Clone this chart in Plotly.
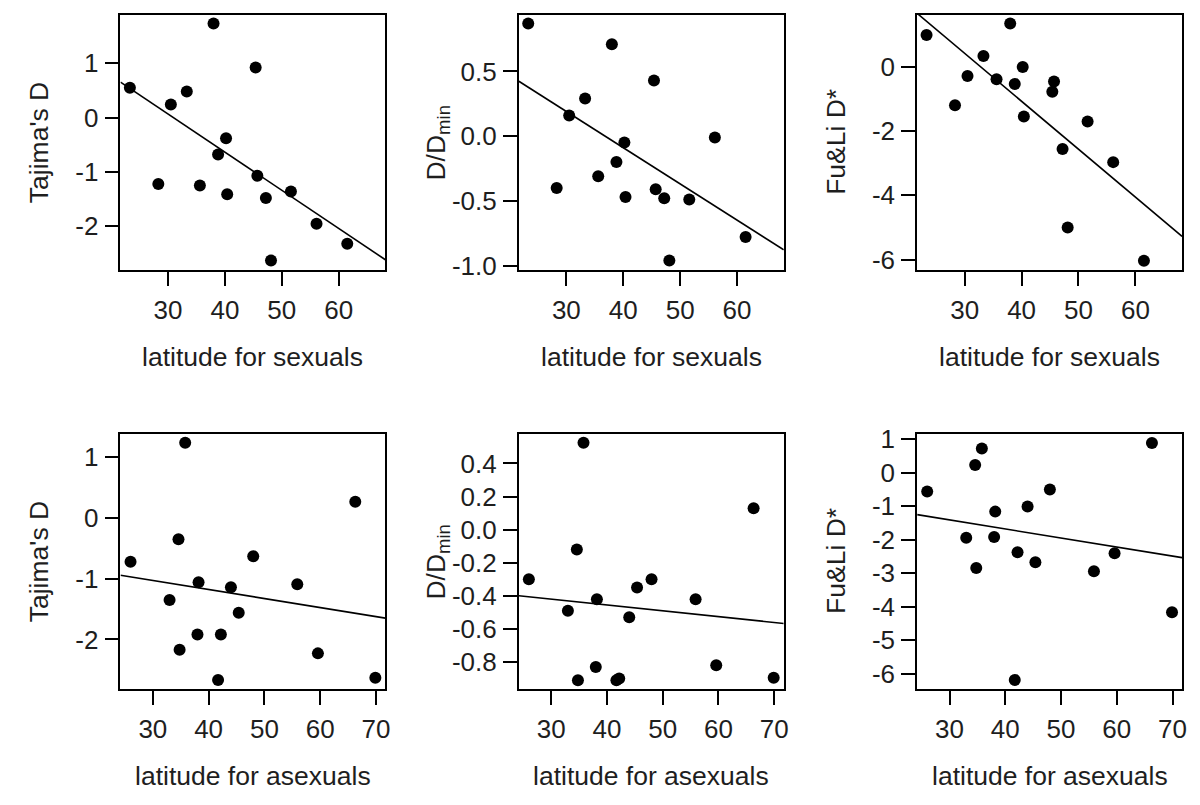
import numpy as np
import plotly.graph_objects as go

# ---- data ----
lat_sexuals = [23.3, 38.0, 45.4, 33.3, 30.5, 40.2, 38.8, 28.3, 35.6, 40.4, 45.7, 47.2, 51.6, 56.1, 61.5, 48.1]
tajima_sexuals = [0.55, 1.73, 0.92, 0.48, 0.24, -0.38, -0.68, -1.22, -1.25, -1.41, -1.07, -1.48, -1.36, -1.95, -2.32, -2.63]
ddmin_sexuals = [0.87, 0.71, 0.43, 0.29, 0.16, -0.05, -0.20, -0.40, -0.31, -0.47, -0.41, -0.48, -0.49, -0.01, -0.78, -0.96]
# Fu & Li values are listed in the order of lat_sexuals_fuli
lat_sexuals_fuli = [23.3, 38.0, 33.3, 30.5, 35.6, 38.8, 40.2, 28.3, 40.4, 45.7, 45.4, 47.2, 51.6, 56.1, 61.5, 48.1]
fuli_sexuals = [0.98, 1.34, 0.33, -0.29, -0.39, -0.54, -0.01, -1.20, -1.55, -0.46, -0.78, -2.56, -1.71, -2.97, -6.04, -5.00]

lat_asexuals = [26.0, 35.8, 34.6, 33.0, 34.8, 38.2, 38.0, 41.7, 42.2, 44.0, 45.4, 48.0, 55.9, 59.6, 66.3, 69.9]
tajima_asexuals = [-0.72, 1.24, -0.35, -1.35, -2.17, -1.06, -1.92, -2.67, -1.92, -1.14, -1.56, -0.63, -1.09, -2.23, 0.27, -2.63]
ddmin_asexuals = [-0.30, 0.525, -0.12, -0.49, -0.91, -0.42, -0.83, -0.91, -0.90, -0.53, -0.35, -0.30, -0.42, -0.82, 0.13, -0.895]
fuli_asexuals = [-0.56, 0.72, 0.23, -1.94, -2.84, -1.16, -1.92, -6.18, -2.37, -1.01, -2.67, -0.50, -2.94, -2.40, 0.89, -4.16]

xticks_sexuals = [30, 40, 50, 60]
xticks_asexuals = [30, 40, 50, 60, 70]
yticks_tajima_s = [-2, -1, 0, 1]
yticks_ddmin_s = [-1.0, -0.5, 0.0, 0.5]
yticks_fuli_s = [-6, -4, -2, 0]
yticks_tajima_a = [-2, -1, 0, 1]
yticks_ddmin_a = [-0.8, -0.6, -0.4, -0.2, 0.0, 0.2, 0.4]
yticks_fuli_a = [-6, -5, -4, -3, -2, -1, 0, 1]

xlabel_s = "latitude for sexuals"
xlabel_a = "latitude for asexuals"
ylabels = ["Tajima's D", "D/D<sub>min</sub>", "Fu&Li D*"]

# ---- layout geometry ----
W, H = 1200, 805
col_px = [(121, 387), (521, 787), (921, 1187)]
row_px = [(6, 267.5), (435.5, 697.5)]
xrange_s = [21.65, 68.2]
xrange_a = [24.2, 71.7]

panels = [
    (0, 0, lat_sexuals, tajima_sexuals, xrange_s, [-2.80, 1.89], xticks_sexuals, yticks_tajima_s, "d", xlabel_s, ylabels[0]),
    (0, 1, lat_sexuals, ddmin_sexuals, xrange_s, [-1.033, 0.937], xticks_sexuals, yticks_ddmin_s, "1f", xlabel_s, ylabels[1]),
    (0, 2, lat_sexuals_fuli, fuli_sexuals, xrange_s, [-6.32, 1.61], xticks_sexuals, yticks_fuli_s, "d", xlabel_s, ylabels[2]),
    (1, 0, lat_asexuals, tajima_asexuals, xrange_a, [-2.82, 1.39], xticks_asexuals, yticks_tajima_a, "d", xlabel_a, ylabels[0]),
    (1, 1, lat_asexuals, ddmin_asexuals, xrange_a, [-0.964, 0.580], xticks_asexuals, yticks_ddmin_a, "1f", xlabel_a, ylabels[1]),
    (1, 2, lat_asexuals, fuli_asexuals, xrange_a, [-6.456, 1.165], xticks_asexuals, yticks_fuli_a, "d", xlabel_a, ylabels[2]),
]

FONT = "Liberation Sans, Arial, Helvetica, sans-serif"
TXT = "#1e1e1e"
fig = go.Figure()
annotations = []

for i, (r, c, xs, ys, xr, yr, xt, yt, fmt, xl, yl) in enumerate(panels):
    n = "" if i == 0 else str(i + 1)
    xa, ya = "x" + n, "y" + n
    x0, x1 = col_px[c]
    y0, y1 = row_px[r]
    xdom = [x0 / W, x1 / W]
    ydom = [(H - y1) / H, (H - y0) / H]

    slope, icpt = np.polyfit(np.array(xs), np.array(ys), 1)
    lx = np.array(xr)
    fig.add_trace(go.Scatter(x=lx, y=icpt + slope * lx, mode="lines", xaxis=xa, yaxis=ya,
                             line=dict(color="black", width=1.6), showlegend=False,
                             hoverinfo="skip"))
    fig.add_trace(go.Scatter(x=xs, y=ys, mode="markers", xaxis=xa, yaxis=ya,
                             marker=dict(size=12, color="black", line=dict(width=0)),
                             showlegend=False, hoverinfo="x+y"))

    ticktext = [("%d" % v) if fmt == "d" else ("%.1f" % v) for v in yt]
    common = dict(showgrid=False, zeroline=False, showline=True, linecolor="black",
                  linewidth=1.8, mirror=True, ticks="outside", ticklen=14, tickwidth=1.6,
                  tickcolor="black", tickfont=dict(family=FONT, size=26, color=TXT))
    fig.layout["xaxis" + n] = dict(domain=xdom, range=xr, anchor=ya, tickvals=xt,
                                   ticktext=[str(v) for v in xt], ticklabelstandoff=2, **common)
    fig.layout["yaxis" + n] = dict(domain=ydom, range=yr, anchor=xa, tickvals=yt,
                                   ticktext=ticktext, ticklabelstandoff=1, **common)

    annotations.append(dict(text=xl, xref="paper", yref="paper", x=(x0 + x1) / 2 / W,
                            y=(H - (357 if r == 0 else 786.5)) / H, xanchor="center",
                            yanchor="middle", showarrow=False,
                            font=dict(family=FONT, size=26.5, color=TXT)))
    annotations.append(dict(text=yl, xref="paper", yref="paper", x=(x0 - 81) / W,
                            y=(H - (y0 + y1) / 2) / H, xanchor="center", yanchor="middle",
                            textangle=-90, showarrow=False,
                            font=dict(family=FONT, size=26.5, color=TXT)))

fig.update_layout(width=W, height=H, margin=dict(l=0, r=0, t=0, b=0),
                  paper_bgcolor="white", plot_bgcolor="white",
                  annotations=annotations, showlegend=False)

fig.write_html(
    "out.html",
    config={"displayModeBar": False},
    post_script=(
        "document.documentElement.style.margin='0';"
        "document.body.style.margin='0';document.body.style.padding='0';"
        "document.documentElement.style.overflow='hidden';"
        "var gd=document.getElementsByClassName('plotly-graph-div')[0];"
        "gd.style.position='fixed';gd.style.left='0px';gd.style.top='0px';"
    ),
)
